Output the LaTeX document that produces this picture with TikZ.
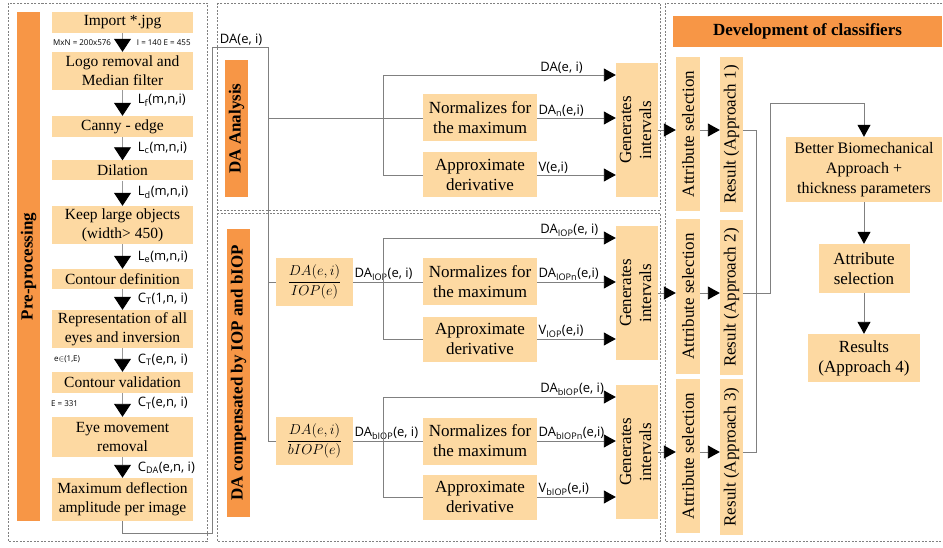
\documentclass[tikz,border=0pt]{standalone}
\usepackage{fontspec}
\setmainfont{Liberation Serif}
\setsansfont{Open Sans}
\usepackage{amsmath}
\usetikzlibrary{arrows.meta}

\definecolor{stepfill}{RGB}{253,217,162}
\definecolor{headfill}{RGB}{247,150,70}
\definecolor{wiregray}{RGB}{128,128,128}

\begin{document}
\begin{tikzpicture}[x=1pt, y=-1pt,
   box/.style={fill=stepfill, align=center, inner sep=1pt, font=\rmfamily\fontsize{15.5}{19}\selectfont},
   pre/.style={box, minimum width=141},
   mid/.style={box, font=\rmfamily\fontsize{17}{20}\selectfont},
   head/.style={fill=headfill, align=center, inner sep=0pt, font=\rmfamily\fontsize{17}{20}\selectfont\bfseries},
   lbl/.style={font=\sffamily\fontsize{13}{15}\selectfont, inner sep=1pt},
   tiny/.style={font=\sffamily\fontsize{8}{9}\selectfont, inner sep=1pt},
   wire/.style={draw=wiregray, line width=0.9pt},
   arr/.style={wire, -{Triangle[width=13pt,length=12pt,color=black]}},
   bigarr/.style={wire, draw=wiregray!80, -{Triangle[width=17pt,length=13pt,color=black]}},
   frame/.style={draw=gray, line width=0.6pt, dash pattern=on 2pt off 1.5pt}]

   \useasboundingbox (0,0) rectangle (943,548);

   % Frames
   \draw[frame] (8,3) rectangle (207,541);
   \draw[frame] (217,3) rectangle (660,210);
   \draw[frame] (217,213) rectangle (660,541);
   \draw[frame] (665,3) rectangle (948,541);

   % Pre-processing
   \node[head, minimum width=23, minimum height=509] (hPre) at (28.5,266.5) {\rotatebox{90}{Pre-processing}};
   \node[pre, minimum height=21] (p1) at (122.5,22.5) {Import *.jpg};
   \node[pre, minimum height=38] (p2) at (122.5,71) {Logo removal and\\Median filter};
   \node[pre, minimum height=21] (p3) at (122.5,126.5) {Canny - edge};
   \node[pre, minimum height=20] (p4) at (122.5,170.5) {Dilation};
   \node[pre, minimum height=38] (p5) at (122.5,225) {Keep large objects\\(width> 450)};
   \node[pre, minimum height=20] (p6) at (122.5,279) {Contour definition};
   \node[pre, minimum height=38] (p7) at (122.5,329) {Representation of all\\eyes and inversion};
   \node[pre, minimum height=21] (p8) at (122.5,382.5) {Contour validation};
   \node[pre, minimum height=40] (p9) at (122.5,437) {Eye movement\\removal};
   \node[pre, minimum height=43] (p10) at (122.5,499.5) {Maximum deflection\\amplitude per image};

   \draw[bigarr] (p1) -- node[tiny, left=10pt] {MxN = 200x576} node[tiny, right=13pt] {I = 140 E = 455} (p2);
   \draw[bigarr] (p2) -- node[lbl, right=14pt, pos=0.4] {L\textsubscript{f}(m,n,i)} (p3);
   \draw[bigarr] (p3) -- node[lbl, right=14pt, pos=0.45] {L\textsubscript{c}(m,n,i)} (p4);
   \draw[bigarr] (p4) -- node[lbl, right=14pt, pos=0.45] {L\textsubscript{d}(m,n,i)} (p5);
   \draw[bigarr] (p5) -- node[lbl, right=14pt, pos=0.5] {L\textsubscript{e}(m,n,i)} (p6);
   \draw[bigarr] (p6) -- node[lbl, right=14pt, pos=0.45] {C\textsubscript{T}(1,n, i)} (p7);
   \draw[bigarr] (p7) -- node[lbl, right=14pt, pos=0.5] {C\textsubscript{T}(e,n, i)} node[tiny, left=41pt, pos=0.45] {e\(\in\)(1,E)} (p8);
   \draw[bigarr] (p8) -- node[lbl, right=14pt, pos=0.42] {C\textsubscript{T}(e,n, i)} node[tiny, left=43pt, pos=0.45] {E = 331} (p9);
   \draw[bigarr] (p9) -- node[lbl, right=14pt, pos=0.52] {C\textsubscript{DA}(e,n, i)} (p10);

   % DA trunk
   \coordinate (bend) at (212,533);
   \coordinate (trunk) at (268,47);

   % DA Analysis
   \node[head, minimum width=23, minimum height=137] (hDA) at (236.5,128.5) {\rotatebox{90}{DA Analysis}};
   \node[mid, minimum width=114, minimum height=47] (nDA) at (480,118) {Normalizes for\\the maximum};
   \node[mid, minimum width=114, minimum height=45] (aDA) at (480,175) {Approximate\\derivative};
   \node[mid, minimum width=38, minimum height=134] (gDA) at (637,130) {\rotatebox{90}{\begin{tabular}{@{}c@{}}Generates\\intervals\end{tabular}}};
   \coordinate (tDA) at (383,75);

   % DA compensated by IOP and bIOP
   \node[head, minimum width=23, minimum height=288] (hComp) at (238.5,373) {\rotatebox{90}{DA compensated by IOP and bIOP}};
   \node[mid, minimum width=77, minimum height=48, font=\fontsize{15}{17}\selectfont] (fIOP) at (314.5,282) {$\dfrac{DA(e,i)}{IOP(e)}$};
   \node[mid, minimum width=114, minimum height=47] (nIOP) at (480,282) {Normalizes for\\the maximum};
   \node[mid, minimum width=114, minimum height=45] (aIOP) at (480,339) {Approximate\\derivative};
   \node[mid, minimum width=38, minimum height=134] (gIOP) at (637,293) {\rotatebox{90}{\begin{tabular}{@{}c@{}}Generates\\intervals\end{tabular}}};
   \coordinate (tIOP) at (383,238);

   \node[mid, minimum width=77, minimum height=48, font=\fontsize{15}{17}\selectfont] (fbIOP) at (314.5,441) {$\dfrac{DA(e,i)}{bIOP(e)}$};
   \node[mid, minimum width=114, minimum height=47] (nbIOP) at (480,441) {Normalizes for\\the maximum};
   \node[mid, minimum width=114, minimum height=45] (abIOP) at (480,497) {Approximate\\derivative};
   \node[mid, minimum width=38, minimum height=134] (gbIOP) at (637,452) {\rotatebox{90}{\begin{tabular}{@{}c@{}}Generates\\intervals\end{tabular}}};
   \coordinate (tbIOP) at (383,397);

   \draw[wire] (p10) |- (bend) |- node[lbl, above, pos=0.76] {DA(e, i)} (trunk) |- (fbIOP);
   \draw[wire] (trunk |- nDA) -- (nDA);
   \draw[wire] (trunk |- fIOP) -- (fIOP);

   \draw[arr] (aDA) -| (tDA) -- node[lbl, anchor=south west, pos=0.67] {DA(e, i)} (tDA -| gDA.west);
   \draw[arr] (nDA) -- node[lbl, anchor=south west, pos=0] {DA\textsubscript{n}(e,i)} (nDA -| gDA.west);
   \draw[arr] (aDA) -- node[lbl, anchor=south west, pos=0] {V(e,i)} (aDA -| gDA.west);

   \draw[wire] (fIOP) -- node[lbl, anchor=south west, pos=0] {DA\textsubscript{IOP}(e, i)} (nIOP);
   \draw[arr] (aIOP) -| (tIOP) -- node[lbl, anchor=south west, pos=0.67] {DA\textsubscript{IOP}(e, i)} (tIOP -| gIOP.west);
   \draw[arr] (nIOP) -- node[lbl, anchor=south west, pos=0] {DA\textsubscript{IOPn}(e,i)} (nIOP -| gIOP.west);
   \draw[arr] (aIOP) -- node[lbl, anchor=south west, pos=0] {V\textsubscript{IOP}(e,i)} (aIOP -| gIOP.west);

   \draw[wire] (fbIOP) -- node[lbl, anchor=south west, pos=0] {DA\textsubscript{bIOP}(e, i)} (nbIOP);
   \draw[arr] (abIOP) -| (tbIOP) -- node[lbl, anchor=south west, pos=0.67] {DA\textsubscript{bIOP}(e, i)} (tbIOP -| gbIOP.west);
   \draw[arr] (nbIOP) -- node[lbl, anchor=south west, pos=0] {DA\textsubscript{bIOPn}(e,i)} (nbIOP -| gbIOP.west);
   \draw[arr] (abIOP) -- node[lbl, anchor=south west, pos=0] {V\textsubscript{bIOP}(e,i)} (abIOP -| gbIOP.west);

   % Development of classifiers
   \node[head, minimum width=269, minimum height=31] (dev) at (807.5,31.5) {Development of classifiers};
   \node[mid, minimum width=24, minimum height=154] (s1) at (688,134) {\rotatebox{90}{Attribute selection}};
   \node[mid, minimum width=24, minimum height=155] (s2) at (688,296.5) {\rotatebox{90}{Attribute selection}};
   \node[mid, minimum width=24, minimum height=154] (s3) at (688,456) {\rotatebox{90}{Attribute selection}};
   \node[mid, minimum width=23, minimum height=155] (r1) at (731.5,134.5) {\rotatebox{90}{Result (Approach 1)}};
   \node[mid, minimum width=23, minimum height=155] (r2) at (731.5,297.5) {\rotatebox{90}{Result (Approach 2)}};
   \node[mid, minimum width=23, minimum height=156] (r3) at (731.5,457) {\rotatebox{90}{Result (Approach 3)}};
   \node[box, font=\rmfamily\fontsize{16}{20}\selectfont, minimum width=156, minimum height=65] (bb) at (864,169.5) {Better Biomechanical\\Approach +\\thickness parameters};
   \node[mid, minimum width=91, minimum height=49] (as) at (864,268.5) {Attribute\\selection};
   \node[mid, minimum width=112, minimum height=48] (res) at (864,358) {Results\\(Approach 4)};
   \coordinate (loop) at (770,103);

   \draw[arr] (gDA) -- (gDA -| s1.west);
   \draw[arr] (gIOP) -- (gIOP -| s2.west);
   \draw[arr] (gbIOP) -- (gbIOP -| s3.west);
   \draw[arr] (gDA -| s1.east) -- (gDA -| r1.west);
   \draw[arr] (gIOP -| s2.east) -- (gIOP -| r2.west);
   \draw[arr] (gbIOP -| s3.east) -- (gbIOP -| r3.west);

   \draw[wire] (gDA -| r1.east) -- ++(13,0) |- (gbIOP -| r3.east);
   \draw[arr] (gIOP -| r2.east) -| (loop) -| (bb);
   \draw[arr] (bb) -- (as);
   \draw[arr] (as) -- (res);

\end{tikzpicture}
\end{document}
